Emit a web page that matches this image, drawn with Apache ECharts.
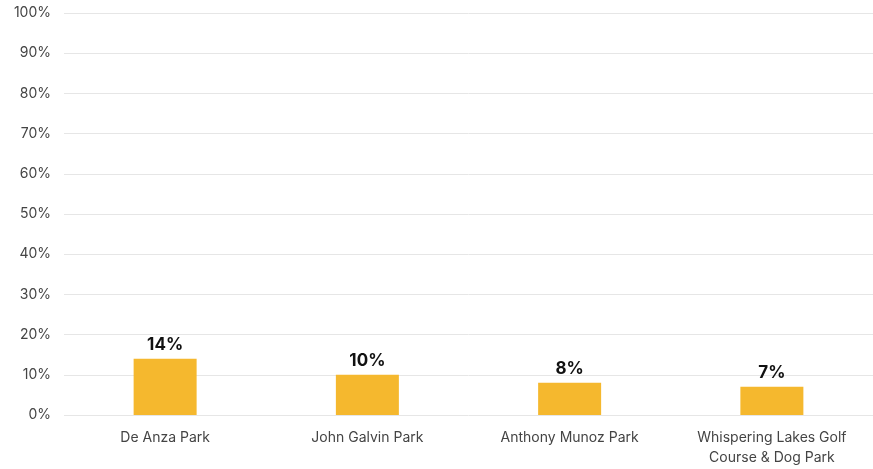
<!DOCTYPE html>
<html>
<head>
<meta charset="utf-8">
<script src="https://cdn.jsdelivr.net/npm/echarts@6/dist/echarts.min.js"></script>
<style>
html,body{margin:0;padding:0;background:#fff;}
#main{width:873px;height:469px;}
</style>
</head>
<body>
<div id="main"></div>
<script>
var categories = ['De Anza Park', 'John Galvin Park', 'Anthony Munoz Park', 'Whispering Lakes Golf\nCourse & Dog Park'];
var values = [14, 10, 8, 7];
var yTicks = [0, 10, 20, 30, 40, 50, 60, 70, 80, 90, 100];

var barChartObj = {
    myChart : echarts.init(document.getElementById('main')),
    option : null,
    init : function(){
        var that = this;
        that.drawChart();
    },
    drawChart : function(){
        var that = this;
        that.option = {
            animation : false,
            textStyle : { fontFamily : 'Inter, "Noto Sans", sans-serif' },
            grid : { left : 64, width : 812, top : 13, bottom : 54 },
            xAxis : {
                type : 'category',
                data : categories,
                axisTick : { show : false },
                axisLine : { show : false },
                axisLabel : { color : '#444', fontSize : 14, margin : 13, lineHeight : 20, interval : 0 }
            },
            yAxis : {
                type : 'value',
                min : yTicks[0],
                max : yTicks[yTicks.length - 1],
                interval : 10,
                axisLine : { show : false },
                axisTick : { show : false },
                splitLine : { lineStyle : { color : '#e6e6e6', width : 1 } },
                axisLabel : { color : '#444', fontSize : 14, margin : 13, formatter : '{value}%' }
            },
            series : [{
                type : 'bar',
                data : values,
                barWidth : 63,
                itemStyle : { color : '#F5B82E' },
                label : {
                    show : true,
                    position : 'top',
                    distance : 5,
                    formatter : '{c}%',
                    color : '#111',
                    fontSize : 17,
                    fontWeight : 'bold'
                }
            }]
        };
        that.myChart.setOption(that.option);
    }
};
barChartObj.init();
</script>
</body>
</html>
